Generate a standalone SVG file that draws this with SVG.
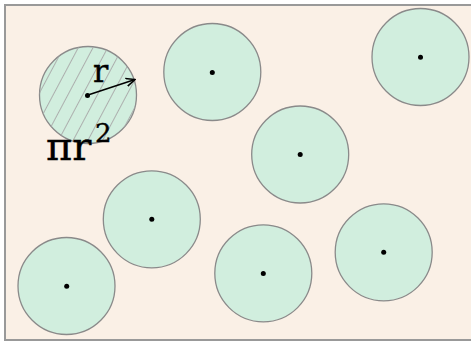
<svg xmlns="http://www.w3.org/2000/svg" width="471" height="342" viewBox="0 0 471 342">
<style>
.c{fill:#d1eede;stroke:#8a8a8a;stroke-width:1.3}
.d{fill:#000}
.t{font-family:"DejaVu Serif","Liberation Serif",serif;fill:#000;stroke:#000;stroke-width:0.4}
</style>
<defs>
<pattern id="h" patternUnits="userSpaceOnUse" width="13" height="13" patternTransform="rotate(28)">
<line x1="0" y1="0" x2="0" y2="13" stroke="#a8a8a8" stroke-width="1.8"/>
</pattern>
<marker id="a" viewBox="0 0 10 10" refX="9" refY="5" markerWidth="10" markerHeight="10" markerUnits="userSpaceOnUse" orient="auto">
<path d="M0,1 L9,5 L0,9" fill="none" stroke="#000" stroke-width="1.5"/>
</marker>
</defs>
<rect x="5" y="5" width="470" height="335" fill="#faf0e6" stroke="#999" stroke-width="2"/>
<g id="n0"><circle class="c" cx="88" cy="95" r="48.5"/><circle cx="88" cy="95" r="48.5" fill="url(#h)"/><circle class="d" cx="87.5" cy="95.5" r="2.5"/></g>
<g id="n1"><circle class="c" cx="212.3" cy="72" r="48.5"/><circle class="d" cx="212.3" cy="72.5" r="2.5"/></g>
<g id="n2"><circle class="c" cx="420.5" cy="57" r="48.5"/><circle class="d" cx="420.5" cy="57.3" r="2.5"/></g>
<g id="n3"><circle class="c" cx="300.2" cy="154.5" r="48.5"/><circle class="d" cx="300.2" cy="154.5" r="2.5"/></g>
<g id="n4"><circle class="c" cx="151.8" cy="219.3" r="48.5"/><circle class="d" cx="151.8" cy="219.3" r="2.5"/></g>
<g id="n5"><circle class="c" cx="383.7" cy="252.3" r="48.5"/><circle class="d" cx="383.7" cy="252.3" r="2.5"/></g>
<g id="n6"><circle class="c" cx="263.3" cy="273.3" r="48.5"/><circle class="d" cx="263.3" cy="273.5" r="2.5"/></g>
<g id="n7"><circle class="c" cx="66.5" cy="286" r="48.5"/><circle class="d" cx="66.7" cy="286.3" r="2.5"/></g>
<g id="connectors"><line x1="88" y1="95" x2="135" y2="79.5" stroke="#000" stroke-width="1.5" marker-end="url(#a)"/></g>
<text class="t" x="93" y="82" font-size="32">r</text>
<text class="t" x="46" y="160" font-size="40">πr<tspan font-size="26" x="95" y="142">2</tspan></text>
</svg>
